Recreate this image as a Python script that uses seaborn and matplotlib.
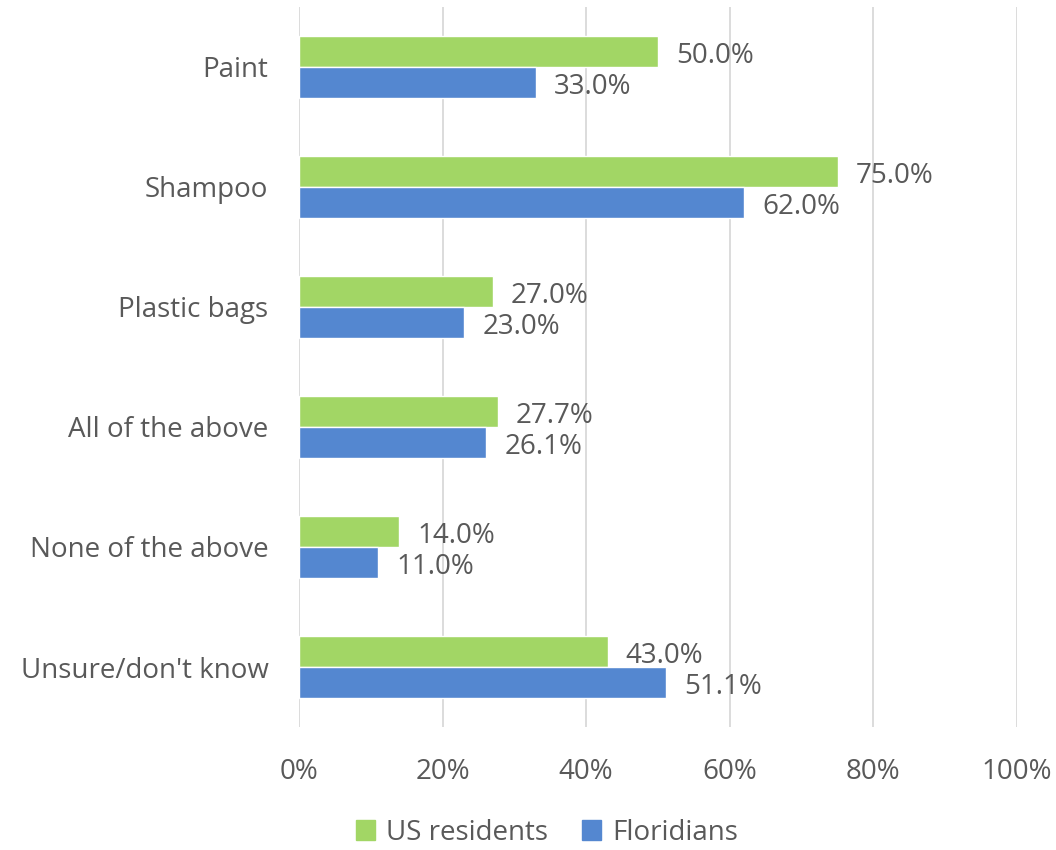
import matplotlib
matplotlib.use("Agg")
import matplotlib.pyplot as plt
import numpy as np
import pandas as pd
import seaborn as sns
from matplotlib.ticker import PercentFormatter

# Data
categories = ["Paint", "Shampoo", "Plastic bags", "All of the above",
              "None of the above", "Unsure/don't know"]
us_residents = [50.0, 75.0, 27.0, 27.7, 14.0, 43.0]
floridians = [33.0, 62.0, 23.0, 26.1, 11.0, 51.1]
series = ["US residents", "Floridians"]
colors = ["#A2D665", "#5487D0"]

df = pd.DataFrame({
    "category": categories * 2,
    "value": us_residents + floridians,
    "series": [series[0]] * len(categories) + [series[1]] * len(categories),
})

sns.set_style("white")
plt.rcParams["font.family"] = ["Open Sans", "DejaVu Sans"]
text_color = "#595959"
fs = 20

fig = plt.figure(figsize=(10.56, 8.5), dpi=100)
ax = fig.add_axes([0.2831, 0.1447, 0.68, 0.8471])

sns.barplot(data=df, y="category", x="value", hue="series", order=categories,
            hue_order=series, palette=colors, width=0.52, orient="h",
            saturation=1, ax=ax, legend=False)

for cont in ax.containers:
    texts = ax.bar_label(cont, labels=[f"{v:.1f}%" for v in cont.datavalues],
                         padding=13, fontsize=fs, color=text_color)
    for t in texts:
        x, y = t.xyann
        t.xyann = (x, y - 3)

ax.set_xlim(0, 100)
ax.xaxis.set_major_formatter(PercentFormatter(decimals=0))
ax.set_xticks(np.arange(0, 101, 20))
ax.grid(axis="x", color="#D9D9D9", linewidth=1.3)
ax.set_axisbelow(True)
for s in ax.spines.values():
    s.set_visible(False)
ax.tick_params(axis="both", length=0, labelsize=fs, labelcolor=text_color)
ax.tick_params(axis="x", pad=22)
ax.tick_params(axis="y", pad=22)
ax.set_xlabel("")
ax.set_ylabel("")

handles = [plt.Rectangle((0, 0), 1, 1, color=c) for c in colors]
fig.legend(handles, series, loc="lower center", bbox_to_anchor=(0.518, 0.004),
           ncol=2, frameon=False, fontsize=fs, handlelength=0.7,
           handleheight=0.7, columnspacing=1.2, handletextpad=0.4,
           borderpad=0.0, borderaxespad=0.0, labelcolor=text_color)

fig.savefig("out.png", dpi=100)
